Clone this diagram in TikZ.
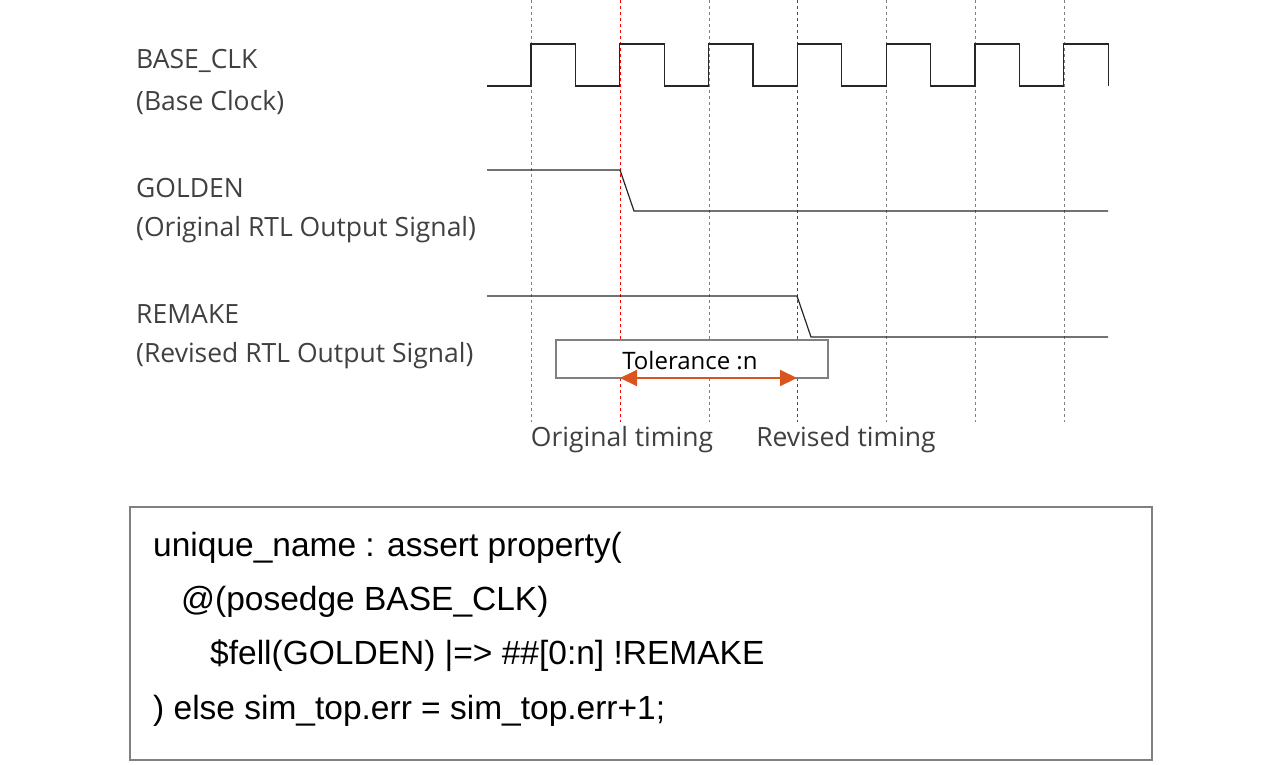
\documentclass[tikz,border=0pt]{standalone}
\usepackage{fontspec}
\setmainfont{Liberation Sans}
\newfontfamily\lab{Open Sans}
\usetikzlibrary{arrows.meta}
\begin{document}
\begin{tikzpicture}[x=1pt,y=-1pt,
  sig/.style={line width=1.2pt,black!85},
  grid/.style={dashed,gray,line width=0.7pt},
  redgrid/.style={dashed,red,line width=0.7pt},
  lbl/.style={anchor=west,inner sep=0,font=\lab\fontsize{26.5}{26.5}\selectfont,text=black!75},
  code/.style={anchor=west,inner sep=0,font=\fontsize{33.5}{33.5}\selectfont}]
\useasboundingbox (0,0) rectangle (1284,764);
\foreach \x in {531,709,886,975,1064} \draw[grid] (\x,0) -- (\x,422);
\foreach \x in {620,797} \draw[redgrid] (\x,0) -- (\x,422);
% clock
\draw[sig] (487,86) -- (531,86)
  \foreach \i in {0,...,6} { -- ++(0,-42) -- ++(44.4,0) -- ++(0,42) \ifnum\i<6 -- ++(44.4,0)\fi };
\draw[sig] (487,170) -- (620,170) -- (634,211) -- (1108,211);
\draw[sig] (487,296) -- (797,296) -- (811,337) -- (1108,337);
\node[draw=gray,line width=1.5pt,fill=white,minimum width=272,minimum height=38,inner sep=0] (tol) at (692,359) {};
\node[inner sep=0,font=\lab\fontsize{24}{24}\selectfont] (toltxt) at (690,361) {Tolerance :n};
\coordinate (ta) at (620,378); \coordinate (tb) at (797,378);
\draw[{Triangle[length=17pt,width=16pt]}-{Triangle[length=17pt,width=16pt]},line width=2pt,draw={rgb,255:red,218;green,85;blue,30},fill={rgb,255:red,218;green,85;blue,30}] (ta) -- (tb);
\node[lbl,anchor=center] (ot) at (622,440) {Original timing};
\node[lbl,anchor=center] (rt) at (846,440) {Revised timing};
\node[lbl] (l1) at (136,61) {BASE\_CLK};
\node[lbl] (l2) at (136,103) {(Base Clock)};
\node[lbl] (l3) at (136,188) {GOLDEN};
\node[lbl] (l4) at (136,230) {(Original RTL Output Signal)};
\node[lbl] (l5) at (136,314) {REMAKE};
\node[lbl] (l6) at (136,356) {(Revised RTL Output Signal)};
\draw[gray,line width=1.5pt] (130,507) rectangle (1152,760);
\node[code] (c1) at (153,548) {unique\_name : assert property(};
\node[code] (c2) at (181,602) {@(posedge BASE\_CLK)};
\node[code] (c3) at (210,656) {\$fell(GOLDEN) |=> \#\#[0:n] !REMAKE};
\node[code] (c4) at (153,711) {) else sim\_top.err = sim\_top.err+1;};
\end{tikzpicture}
\end{document}
